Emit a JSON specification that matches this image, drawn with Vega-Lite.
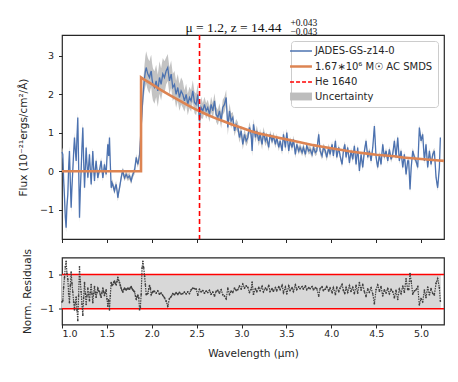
{
"$schema": "https://vega.github.io/schema/vega-lite/v6.json",
"padding": {"left": 17, "top": 16, "right": 5, "bottom": 5},
"background": "white",
"config": {
  "font": "DejaVu Sans",
  "view": {"stroke": "#262626", "strokeWidth": 1.2},
  "axis": {"grid": false, "domain": false, "tickColor": "#262626", "tickSize": 3.5, "tickWidth": 1, "labelFont": "DejaVu Sans", "labelFontSize": 9.5, "labelColor": "#262626", "titleFont": "DejaVu Sans", "titleFontSize": 10.5, "titleFontWeight": "normal", "titleColor": "#262626", "labelPadding": 5}
},
"spacing": 3.5,
"resolve": {"scale": {"color": "independent"}},
"vconcat": [
{
  "width": 382, "height": 204,
  "resolve": {"axis": {"x": "independent"}},
  "layer": [
    {"data": {"name": "spec"},
     "mark": {"type": "errorband", "borders": false, "band": {"opacity": 0.9}},
     "encoding": {
       "x": {"field": "lam", "type": "quantitative", "scale": {"domain": [1.0, 5.2555], "nice": false, "zero": false}, "axis": {"values": [1, 1.5, 2, 2.5, 3, 3.5, 4, 4.5, 5], "labels": false, "title": null}},
       "y": {"field": "flux", "type": "quantitative", "scale": {"domain": [-1.762, 3.546], "nice": false, "zero": false}, "axis": {"values": [-1, 0, 1, 2, 3], "title": "Flux (10⁻²¹ergs/cm²/Å)", "titlePadding": 11}},
       "yError": {"field": "err"},
       "color": {"datum": "Uncertainty"}
     }},
    {"data": {"name": "spec"},
     "mark": {"type": "line", "strokeWidth": 1.3},
     "encoding": {
       "x": {"field": "lam", "type": "quantitative", "axis": null},
       "y": {"field": "flux", "type": "quantitative"},
       "color": {"datum": "JADES-GS-z14-0", "type": "nominal",
         "scale": {"domain": ["JADES-GS-z14-0", "1.67∗10⁶ M☉ AC SMDS", "He 1640", "Uncertainty"], "range": ["#4C72B0", "#DD8452", "#ff0000", "#bdbdbd"]},
         "legend": {"title": null, "orient": "top-right", "offset": 6, "symbolType": "stroke", "symbolSize": 480, "labelFontSize": 10, "labelFont": "DejaVu Sans", "labelColor": "#262626", "rowPadding": 4.5, "padding": 5, "fillColor": "rgba(255,255,255,0.85)", "strokeColor": "#cccccc", "cornerRadius": 3, "labelOffset": 9,
           "encode": {"symbols": {"update": {
             "shape": {"signal": "datum.value === 'Uncertainty' ? 'M-1,-0.36H1V0.36H-1Z' : 'stroke'"},
             "fill": {"signal": "datum.value === 'Uncertainty' ? '#bdbdbd' : 'transparent'"},
             "strokeWidth": {"signal": "datum.value === 'Uncertainty' ? 0 : datum.value === 'He 1640' ? 1.6 : datum.value === 'JADES-GS-z14-0' ? 1.3 : 2.6"},
             "strokeDash": {"signal": "datum.value === 'He 1640' ? [4, 2] : [1, 0]"},
             "opacity": {"value": 1}
           }}}}
       }
     }},
    {"data": {"name": "model"},
     "mark": {"type": "line", "strokeWidth": 2.6},
     "encoding": {
       "x": {"field": "lam", "type": "quantitative", "axis": {"orient": "top", "domain": false, "ticks": false, "labels": false, "title": "μ = 1.2, z = 14.44", "titleFont": "Liberation Serif", "titleFontSize": 13.5, "titleColor": "#111111", "titleX": 123, "titleY": -4, "titleAlign": "left", "titleBaseline": "alphabetic", "titleAngle": 0}},
       "y": {"field": "flux", "type": "quantitative"},
       "color": {"datum": "1.67∗10⁶ M☉ AC SMDS"}
     }},
    {"data": {"values": [{"lam": 2.532}]},
     "mark": {"type": "rule", "strokeWidth": 1.6, "strokeDash": [5, 3]},
     "encoding": {
       "x": {"field": "lam", "type": "quantitative", "axis": {"orient": "top", "domain": false, "ticks": false, "labels": false, "title": ["+0.043", "−0.043"], "titleFont": "Liberation Serif", "titleFontSize": 9.5, "titleLineHeight": 9.5, "titleColor": "#111111", "titleX": 228, "titleY": -10, "titleAlign": "left", "titleBaseline": "alphabetic", "titleAngle": 0}},
       "color": {"datum": "He 1640"}
     }}
  ]
},
{
  "width": 382, "height": 67,
  "layer": [
    {"data": {"values": [{"a": 1.0, "b": 5.22, "lo": -1, "hi": 1}]},
     "mark": {"type": "rect", "color": "#d8d8d8"},
     "encoding": {
       "x": {"field": "a", "type": "quantitative", "scale": {"domain": [1.0, 5.2555], "nice": false, "zero": false}, "axis": {"values": [1, 1.5, 2, 2.5, 3, 3.5, 4, 4.5, 5], "format": ".1f", "title": "Wavelength (μm)", "titlePadding": 10, "labelPadding": 0.5}},
       "x2": {"field": "b"},
       "y": {"field": "lo", "type": "quantitative", "scale": {"domain": [-1.915, 1.99], "nice": false, "zero": false}, "axis": {"values": [-1, 0, 1], "title": "Norm. Residuals", "titlePadding": 7}},
       "y2": {"field": "hi"}
     }},
    {"data": {"values": [{"r": -1}, {"r": 1}]},
     "mark": {"type": "rule", "color": "#ff0000", "strokeWidth": 1.5},
     "encoding": {"y": {"field": "r", "type": "quantitative"}}},
    {"data": {"name": "resid"},
     "mark": {"type": "line", "color": "#404040", "strokeWidth": 1.2, "strokeDash": [1.5, 1]},
     "encoding": {"x": {"field": "lam", "type": "quantitative"}, "y": {"field": "res", "type": "quantitative"}}},
    {"data": {"name": "resid"},
     "mark": {"type": "point", "filled": true, "color": "#404040", "size": 3, "opacity": 1},
     "encoding": {"x": {"field": "lam", "type": "quantitative"}, "y": {"field": "res", "type": "quantitative"}}}
  ]
}
],
"datasets": {
"model": [
{"lam":1.0,"flux":0},{"lam":1.88,"flux":0},{"lam":1.881,"flux":2.44},{"lam":1.9,"flux":2.41},{"lam":2.0,"flux":2.27},{"lam":2.1,"flux":2.12},{"lam":2.2,"flux":1.98},{"lam":2.3,"flux":1.85},{"lam":2.4,"flux":1.72},{"lam":2.5,"flux":1.60},{"lam":2.6,"flux":1.49},{"lam":2.7,"flux":1.39},{"lam":2.8,"flux":1.30},{"lam":2.9,"flux":1.21},{"lam":3.0,"flux":1.13},{"lam":3.1,"flux":1.05},{"lam":3.2,"flux":0.98},{"lam":3.3,"flux":0.93},{"lam":3.4,"flux":0.88},{"lam":3.5,"flux":0.83},{"lam":3.6,"flux":0.78},{"lam":3.7,"flux":0.73},{"lam":3.8,"flux":0.68},{"lam":3.9,"flux":0.64},{"lam":4.0,"flux":0.60},{"lam":4.1,"flux":0.56},{"lam":4.2,"flux":0.52},{"lam":4.3,"flux":0.49},{"lam":4.4,"flux":0.46},{"lam":4.5,"flux":0.43},{"lam":4.6,"flux":0.41},{"lam":4.7,"flux":0.39},{"lam":4.8,"flux":0.36},{"lam":4.9,"flux":0.34},{"lam":5.0,"flux":0.32},{"lam":5.1,"flux":0.30},{"lam":5.2,"flux":0.28},{"lam":5.255,"flux":0.27}
],
"spec": [
{"lam":1.000,"flux":0.50,"err":0.12},{"lam":1.009,"flux":0.44,"err":0.12},{"lam":1.018,"flux":-0.20,"err":0.12},{"lam":1.028,"flux":-0.69,"err":0.12},{"lam":1.037,"flux":-1.20,"err":0.12},{"lam":1.046,"flux":-1.47,"err":0.12},{"lam":1.055,"flux":-0.90,"err":0.12},{"lam":1.065,"flux":-0.60,"err":0.12},{"lam":1.074,"flux":0.10,"err":0.12},{"lam":1.083,"flux":0.53,"err":0.12},{"lam":1.093,"flux":-0.30,"err":0.12},{"lam":1.102,"flux":-0.95,"err":0.12},{"lam":1.111,"flux":-0.40,"err":0.12},{"lam":1.120,"flux":0.01,"err":0.12},{"lam":1.130,"flux":0.50,"err":0.12},{"lam":1.139,"flux":0.88,"err":0.12},{"lam":1.148,"flux":0.55,"err":0.12},{"lam":1.158,"flux":0.27,"err":0.12},{"lam":1.167,"flux":0.90,"err":0.12},{"lam":1.176,"flux":1.40,"err":0.12},{"lam":1.185,"flux":0.20,"err":0.12},{"lam":1.195,"flux":-1.21,"err":0.12},{"lam":1.204,"flux":-0.50,"err":0.12},{"lam":1.213,"flux":0.01,"err":0.12},{"lam":1.222,"flux":0.60,"err":0.12},{"lam":1.232,"flux":1.14,"err":0.12},{"lam":1.241,"flux":0.30,"err":0.12},
{"lam":1.251,"flux":-0.43,"err":0.09},{"lam":1.260,"flux":0.10,"err":0.09},{"lam":1.269,"flux":0.62,"err":0.09},{"lam":1.278,"flux":0.20,"err":0.09},{"lam":1.288,"flux":-0.17,"err":0.09},{"lam":1.297,"flux":0.15,"err":0.09},{"lam":1.306,"flux":0.44,"err":0.09},{"lam":1.315,"flux":0.05,"err":0.09},{"lam":1.325,"flux":-0.34,"err":0.09},{"lam":1.334,"flux":0.10,"err":0.09},{"lam":1.343,"flux":0.53,"err":0.09},{"lam":1.352,"flux":0.10,"err":0.09},{"lam":1.362,"flux":-0.25,"err":0.09},{"lam":1.371,"flux":0.05,"err":0.09},{"lam":1.380,"flux":0.27,"err":0.09},{"lam":1.389,"flux":0.05,"err":0.09},{"lam":1.399,"flux":-0.17,"err":0.09},{"lam":1.408,"flux":-0.05,"err":0.09},{"lam":1.418,"flux":0.01,"err":0.09},{"lam":1.427,"flux":0.15,"err":0.09},{"lam":1.436,"flux":0.27,"err":0.09},{"lam":1.445,"flux":0.05,"err":0.09},{"lam":1.455,"flux":-0.17,"err":0.09},{"lam":1.464,"flux":0.00,"err":0.09},{"lam":1.473,"flux":0.18,"err":0.09},{"lam":1.482,"flux":0.05,"err":0.09},{"lam":1.492,"flux":-0.08,"err":0.09},{"lam":1.501,"flux":0.35,"err":0.09},{"lam":1.510,"flux":0.70,"err":0.09},{"lam":1.520,"flux":0.40,"err":0.09},{"lam":1.529,"flux":0.88,"err":0.09},{"lam":1.538,"flux":0.20,"err":0.09},{"lam":1.548,"flux":-0.43,"err":0.09},{"lam":1.557,"flux":-0.30,"err":0.09},{"lam":1.566,"flux":-0.34,"err":0.09},{"lam":1.576,"flux":-0.45,"err":0.09},{"lam":1.585,"flux":-0.51,"err":0.09},{"lam":1.594,"flux":-0.40,"err":0.09},{"lam":1.603,"flux":-0.34,"err":0.09},{"lam":1.613,"flux":-0.50,"err":0.09},{"lam":1.622,"flux":-0.69,"err":0.09},{"lam":1.631,"flux":-0.55,"err":0.09},{"lam":1.641,"flux":-0.43,"err":0.09},{"lam":1.650,"flux":-0.30,"err":0.09},{"lam":1.659,"flux":-0.17,"err":0.09},{"lam":1.669,"flux":-0.05,"err":0.09},{"lam":1.678,"flux":0.01,"err":0.09},{"lam":1.687,"flux":-0.10,"err":0.09},{"lam":1.697,"flux":-0.17,"err":0.09},{"lam":1.706,"flux":-0.12,"err":0.09},{"lam":1.715,"flux":-0.08,"err":0.09},{"lam":1.725,"flux":-0.13,"err":0.09},{"lam":1.734,"flux":-0.17,"err":0.09},{"lam":1.743,"flux":-0.14,"err":0.09},{"lam":1.752,"flux":-0.12,"err":0.09},{"lam":1.762,"flux":-0.20,"err":0.09},{"lam":1.771,"flux":-0.25,"err":0.09},{"lam":1.780,"flux":-0.15,"err":0.09},{"lam":1.790,"flux":-0.08,"err":0.09},{"lam":1.799,"flux":-0.03,"err":0.09},{"lam":1.808,"flux":0.01,"err":0.09},{"lam":1.818,"flux":0.20,"err":0.09},{"lam":1.827,"flux":0.36,"err":0.09},{"lam":1.836,"flux":0.25,"err":0.09},{"lam":1.845,"flux":0.18,"err":0.09},{"lam":1.855,"flux":0.30,"err":0.09},{"lam":1.864,"flux":0.44,"err":0.09},
{"lam":1.873,"flux":0.80,"err":0.25},{"lam":1.882,"flux":1.14,"err":0.25},{"lam":1.892,"flux":1.55,"err":0.25},{"lam":1.901,"flux":1.92,"err":0.25},{"lam":1.910,"flux":2.20,"err":0.3},{"lam":1.920,"flux":2.44,"err":0.35},{"lam":1.929,"flux":2.60,"err":0.4},{"lam":1.938,"flux":2.70,"err":0.42},
{"lam":1.948,"flux":2.60,"err":0.42},{"lam":1.957,"flux":2.53,"err":0.42},{"lam":1.966,"flux":2.48,"err":0.42},{"lam":1.975,"flux":2.44,"err":0.42},{"lam":1.985,"flux":2.55,"err":0.42},{"lam":1.994,"flux":2.61,"err":0.42},{"lam":2.003,"flux":2.40,"err":0.42},{"lam":2.013,"flux":2.26,"err":0.42},{"lam":2.021,"flux":2.22,"err":0.42},{"lam":2.030,"flux":2.18,"err":0.42},{"lam":2.049,"flux":2.35,"err":0.42},{"lam":2.067,"flux":2.09,"err":0.42},{"lam":2.086,"flux":2.44,"err":0.42},{"lam":2.104,"flux":2.26,"err":0.42},{"lam":2.123,"flux":2.53,"err":0.42},{"lam":2.141,"flux":2.44,"err":0.42},
{"lam":2.160,"flux":2.61,"err":0.35},{"lam":2.178,"flux":2.70,"err":0.35},{"lam":2.197,"flux":2.35,"err":0.35},{"lam":2.216,"flux":2.53,"err":0.35},{"lam":2.234,"flux":2.18,"err":0.35},{"lam":2.253,"flux":2.26,"err":0.35},{"lam":2.271,"flux":2.00,"err":0.35},{"lam":2.290,"flux":2.18,"err":0.35},{"lam":2.308,"flux":1.92,"err":0.35},{"lam":2.327,"flux":2.09,"err":0.35},{"lam":2.346,"flux":2.00,"err":0.35},
{"lam":2.364,"flux":1.83,"err":0.28},{"lam":2.383,"flux":2.00,"err":0.28},{"lam":2.401,"flux":1.74,"err":0.28},{"lam":2.420,"flux":1.92,"err":0.28},{"lam":2.438,"flux":1.83,"err":0.28},{"lam":2.457,"flux":2.09,"err":0.28},{"lam":2.476,"flux":1.79,"err":0.28},{"lam":2.494,"flux":1.74,"err":0.28},{"lam":2.513,"flux":2.00,"err":0.28},{"lam":2.531,"flux":1.31,"err":0.28},{"lam":2.550,"flux":1.66,"err":0.28},
{"lam":2.569,"flux":1.57,"err":0.2},{"lam":2.587,"flux":1.74,"err":0.2},{"lam":2.606,"flux":1.57,"err":0.2},{"lam":2.624,"flux":1.66,"err":0.2},{"lam":2.643,"flux":1.48,"err":0.2},{"lam":2.661,"flux":1.74,"err":0.2},{"lam":2.680,"flux":1.57,"err":0.2},{"lam":2.699,"flux":1.83,"err":0.2},{"lam":2.717,"flux":1.48,"err":0.2},{"lam":2.736,"flux":1.40,"err":0.2},{"lam":2.754,"flux":1.57,"err":0.2},{"lam":2.773,"flux":1.31,"err":0.2},{"lam":2.791,"flux":1.66,"err":0.2},{"lam":2.810,"flux":1.74,"err":0.2},{"lam":2.829,"flux":1.92,"err":0.2},{"lam":2.847,"flux":1.14,"err":0.2},{"lam":2.866,"flux":1.57,"err":0.2},{"lam":2.884,"flux":1.31,"err":0.2},
{"lam":2.903,"flux":1.40,"err":0.14},{"lam":2.922,"flux":1.05,"err":0.14},{"lam":2.940,"flux":1.22,"err":0.14},{"lam":2.959,"flux":1.14,"err":0.14},{"lam":2.977,"flux":0.88,"err":0.14},{"lam":2.996,"flux":1.05,"err":0.14},{"lam":3.014,"flux":0.70,"err":0.14},{"lam":3.033,"flux":0.96,"err":0.14},{"lam":3.052,"flux":0.79,"err":0.14},{"lam":3.070,"flux":0.88,"err":0.14},{"lam":3.088,"flux":1.14,"err":0.14},{"lam":3.107,"flux":0.96,"err":0.14},{"lam":3.118,"flux":0.53,"err":0.14},{"lam":3.133,"flux":1.22,"err":0.14},{"lam":3.155,"flux":0.88,"err":0.14},{"lam":3.170,"flux":1.05,"err":0.14},{"lam":3.192,"flux":0.79,"err":0.14},{"lam":3.207,"flux":0.96,"err":0.14},{"lam":3.229,"flux":0.70,"err":0.14},{"lam":3.244,"flux":1.01,"err":0.14},{"lam":3.266,"flux":0.79,"err":0.14},{"lam":3.281,"flux":0.88,"err":0.14},
{"lam":3.303,"flux":0.62,"err":0.1},{"lam":3.318,"flux":0.96,"err":0.1},{"lam":3.340,"flux":0.79,"err":0.1},{"lam":3.355,"flux":0.92,"err":0.1},{"lam":3.378,"flux":0.70,"err":0.1},{"lam":3.392,"flux":0.88,"err":0.1},{"lam":3.415,"flux":0.62,"err":0.1},{"lam":3.430,"flux":0.79,"err":0.1},{"lam":3.452,"flux":0.53,"err":0.1},{"lam":3.467,"flux":0.96,"err":0.1},{"lam":3.489,"flux":0.62,"err":0.1},{"lam":3.504,"flux":1.01,"err":0.1},{"lam":3.526,"flux":0.53,"err":0.1},{"lam":3.541,"flux":0.79,"err":0.1},{"lam":3.563,"flux":0.62,"err":0.1},{"lam":3.578,"flux":0.83,"err":0.1},{"lam":3.600,"flux":0.44,"err":0.1},{"lam":3.615,"flux":0.70,"err":0.1},{"lam":3.637,"flux":0.53,"err":0.1},{"lam":3.652,"flux":0.62,"err":0.1},{"lam":3.675,"flux":0.49,"err":0.1},{"lam":3.689,"flux":0.62,"err":0.1},{"lam":3.712,"flux":0.44,"err":0.1},{"lam":3.726,"flux":0.66,"err":0.1},{"lam":3.749,"flux":0.53,"err":0.1},{"lam":3.764,"flux":0.57,"err":0.1},{"lam":3.786,"flux":0.44,"err":0.1},{"lam":3.801,"flux":0.62,"err":0.1},{"lam":3.823,"flux":0.49,"err":0.1},{"lam":3.838,"flux":0.53,"err":0.1},{"lam":3.860,"flux":0.96,"err":0.1},{"lam":3.875,"flux":0.53,"err":0.1},{"lam":3.897,"flux":0.40,"err":0.1},{"lam":3.912,"flux":0.62,"err":0.1},{"lam":3.934,"flux":0.53,"err":0.1},{"lam":3.949,"flux":0.36,"err":0.1},{"lam":3.971,"flux":0.62,"err":0.1},{"lam":3.986,"flux":0.44,"err":0.1},
{"lam":4.009,"flux":0.70,"err":0.08},{"lam":4.023,"flux":0.40,"err":0.08},{"lam":4.046,"flux":0.79,"err":0.08},{"lam":4.061,"flux":0.36,"err":0.08},{"lam":4.083,"flux":0.62,"err":0.08},{"lam":4.098,"flux":0.40,"err":0.08},{"lam":4.120,"flux":0.18,"err":0.08},{"lam":4.135,"flux":0.53,"err":0.08},{"lam":4.150,"flux":0.70,"err":0.08},{"lam":4.165,"flux":0.36,"err":0.08},{"lam":4.183,"flux":0.62,"err":0.08},{"lam":4.202,"flux":0.22,"err":0.08},{"lam":4.220,"flux":0.53,"err":0.08},{"lam":4.239,"flux":0.31,"err":0.08},{"lam":4.257,"flux":0.66,"err":0.08},{"lam":4.276,"flux":0.18,"err":0.08},{"lam":4.294,"flux":0.62,"err":0.08},{"lam":4.313,"flux":0.01,"err":0.08},{"lam":4.332,"flux":0.44,"err":0.08},{"lam":4.350,"flux":0.10,"err":0.08},{"lam":4.369,"flux":0.53,"err":0.08},{"lam":4.387,"flux":0.79,"err":0.08},{"lam":4.406,"flux":0.36,"err":0.08},{"lam":4.424,"flux":0.53,"err":0.08},{"lam":4.443,"flux":0.27,"err":0.08},{"lam":4.462,"flux":0.62,"err":0.08},{"lam":4.480,"flux":1.18,"err":0.08},{"lam":4.499,"flux":0.36,"err":0.08},{"lam":4.517,"flux":0.10,"err":0.08},{"lam":4.536,"flux":0.44,"err":0.08},{"lam":4.554,"flux":0.18,"err":0.08},{"lam":4.573,"flux":0.70,"err":0.08},{"lam":4.591,"flux":0.36,"err":0.08},{"lam":4.610,"flux":0.53,"err":0.08},{"lam":4.629,"flux":0.27,"err":0.08},{"lam":4.647,"flux":0.57,"err":0.08},{"lam":4.666,"flux":0.31,"err":0.08},{"lam":4.684,"flux":0.44,"err":0.08},{"lam":4.703,"flux":0.79,"err":0.08},{"lam":4.721,"flux":0.36,"err":0.08},{"lam":4.740,"flux":0.88,"err":0.08},{"lam":4.758,"flux":0.27,"err":0.08},{"lam":4.777,"flux":0.53,"err":0.08},{"lam":4.796,"flux":0.10,"err":0.08},{"lam":4.814,"flux":0.44,"err":0.08},{"lam":4.833,"flux":-0.08,"err":0.08},{"lam":4.851,"flux":0.27,"err":0.08},{"lam":4.862,"flux":0.27,"err":0.08},{"lam":4.877,"flux":-0.47,"err":0.08},{"lam":4.890,"flux":0.10,"err":0.08},{"lam":4.907,"flux":0.53,"err":0.08},{"lam":4.926,"flux":0.36,"err":0.08},{"lam":4.944,"flux":0.27,"err":0.08},{"lam":4.963,"flux":0.10,"err":0.08},{"lam":4.981,"flux":1.14,"err":0.08},{"lam":5.000,"flux":0.79,"err":0.08},{"lam":5.018,"flux":0.96,"err":0.08},{"lam":5.037,"flux":0.27,"err":0.08},{"lam":5.055,"flux":0.70,"err":0.08},{"lam":5.074,"flux":0.10,"err":0.08},{"lam":5.093,"flux":0.53,"err":0.08},{"lam":5.111,"flux":0.18,"err":0.08},{"lam":5.130,"flux":0.44,"err":0.08},{"lam":5.148,"flux":0.53,"err":0.08},{"lam":5.167,"flux":-0.16,"err":0.08},{"lam":5.185,"flux":-0.43,"err":0.08},{"lam":5.204,"flux":0.10,"err":0.08},{"lam":5.215,"flux":0.88,"err":0.08}
],
"resid": [
{"lam":1.000,"res":-0.60},{"lam":1.009,"res":-0.53},{"lam":1.018,"res":0.24},{"lam":1.028,"res":0.83},{"lam":1.037,"res":1.44},{"lam":1.046,"res":1.76},{"lam":1.055,"res":1.08},{"lam":1.065,"res":0.72},{"lam":1.074,"res":-0.12},{"lam":1.083,"res":-0.64},{"lam":1.093,"res":0.36},{"lam":1.102,"res":1.14},{"lam":1.111,"res":0.48},{"lam":1.120,"res":-0.01},{"lam":1.130,"res":-0.60},{"lam":1.139,"res":-1.06},{"lam":1.148,"res":-0.66},{"lam":1.158,"res":-0.32},{"lam":1.167,"res":-1.08},{"lam":1.176,"res":-1.68},{"lam":1.185,"res":-0.24},{"lam":1.195,"res":1.45},{"lam":1.204,"res":0.60},{"lam":1.213,"res":-0.01},{"lam":1.222,"res":-0.72},{"lam":1.232,"res":-1.37},{"lam":1.241,"res":-0.36},{"lam":1.251,"res":0.52},{"lam":1.260,"res":-0.12},{"lam":1.269,"res":-0.74},{"lam":1.278,"res":-0.24},{"lam":1.288,"res":0.20},{"lam":1.297,"res":-0.18},{"lam":1.306,"res":-0.53},{"lam":1.315,"res":-0.06},{"lam":1.325,"res":0.41},{"lam":1.334,"res":-0.12},{"lam":1.343,"res":-0.64},{"lam":1.352,"res":-0.12},{"lam":1.362,"res":0.30},{"lam":1.371,"res":-0.06},{"lam":1.380,"res":-0.32},{"lam":1.389,"res":-0.06},{"lam":1.399,"res":0.20},{"lam":1.408,"res":0.06},{"lam":1.418,"res":-0.01},{"lam":1.427,"res":-0.18},{"lam":1.436,"res":-0.32},{"lam":1.445,"res":-0.06},{"lam":1.455,"res":0.20},{"lam":1.464,"res":0.00},{"lam":1.473,"res":-0.22},{"lam":1.482,"res":-0.06},{"lam":1.492,"res":0.10},{"lam":1.501,"res":-0.42},{"lam":1.510,"res":-0.84},{"lam":1.520,"res":-0.48},{"lam":1.529,"res":-1.06},{"lam":1.538,"res":-0.24},{"lam":1.548,"res":0.52},{"lam":1.557,"res":0.36},{"lam":1.566,"res":0.41},{"lam":1.576,"res":0.54},{"lam":1.585,"res":0.61},{"lam":1.594,"res":0.48},{"lam":1.603,"res":0.41},{"lam":1.613,"res":0.60},{"lam":1.622,"res":0.83},{"lam":1.631,"res":0.66},{"lam":1.641,"res":0.52},{"lam":1.650,"res":0.36},{"lam":1.659,"res":0.20},{"lam":1.669,"res":0.06},{"lam":1.678,"res":-0.01},{"lam":1.687,"res":0.12},{"lam":1.697,"res":0.20},{"lam":1.706,"res":0.14},{"lam":1.715,"res":0.10},{"lam":1.725,"res":0.16},{"lam":1.734,"res":0.20},{"lam":1.743,"res":0.17},{"lam":1.752,"res":0.14},{"lam":1.762,"res":0.24},{"lam":1.771,"res":0.30},{"lam":1.780,"res":0.18},{"lam":1.790,"res":0.10},{"lam":1.799,"res":0.04},{"lam":1.808,"res":-0.01},{"lam":1.818,"res":-0.24},{"lam":1.827,"res":-0.43},{"lam":1.836,"res":-0.30},{"lam":1.845,"res":-0.22},{"lam":1.855,"res":-0.36},{"lam":1.864,"res":-1.05},{"lam":1.873,"res":-0.90},{"lam":1.882,"res":-0.17},{"lam":1.892,"res":1.38},{"lam":1.901,"res":1.77},{"lam":1.910,"res":1.40},{"lam":1.920,"res":0.90},{"lam":1.929,"res":0.40},{"lam":1.938,"res":-0.17},{"lam":1.948,"res":-0.13},{"lam":1.957,"res":-0.10},{"lam":1.966,"res":0.15},{"lam":1.975,"res":0.35},{"lam":1.985,"res":0.20},{"lam":1.994,"res":-0.17},{"lam":2.003,"res":-0.07},{"lam":2.013,"res":0.00},{"lam":2.021,"res":0.01},{"lam":2.030,"res":0.02},{"lam":2.049,"res":-0.08},{"lam":2.067,"res":0.04},{"lam":2.086,"res":-0.15},{"lam":2.104,"res":-0.08},{"lam":2.123,"res":-0.22},{"lam":2.141,"res":-0.35},{"lam":2.160,"res":-0.55},{"lam":2.178,"res":-0.85},{"lam":2.197,"res":-0.40},{"lam":2.216,"res":-0.29},{"lam":2.234,"res":-0.12},{"lam":2.253,"res":-0.18},{"lam":2.271,"res":-0.06},{"lam":2.290,"res":-0.16},{"lam":2.308,"res":-0.04},{"lam":2.327,"res":-0.14},{"lam":2.346,"res":-0.11},{"lam":2.364,"res":-0.03},{"lam":2.383,"res":-0.13},{"lam":2.401,"res":-0.01},{"lam":2.420,"res":-0.11},{"lam":2.438,"res":0.10},{"lam":2.457,"res":0.20},{"lam":2.476,"res":0.18},{"lam":2.494,"res":0.15},{"lam":2.513,"res":-0.21},{"lam":2.531,"res":0.13},{"lam":2.550,"res":0.00},{"lam":2.569,"res":0.06},{"lam":2.587,"res":-0.09},{"lam":2.606,"res":0.03},{"lam":2.624,"res":-0.05},{"lam":2.643,"res":0.08},{"lam":2.661,"res":-0.15},{"lam":2.680,"res":-0.03},{"lam":2.699,"res":-0.25},{"lam":2.717,"res":0.01},{"lam":2.736,"res":0.07},{"lam":2.754,"res":-0.08},{"lam":2.773,"res":0.11},{"lam":2.791,"res":-0.18},{"lam":2.810,"res":-0.26},{"lam":2.829,"res":-0.42},{"lam":2.847,"res":0.20},{"lam":2.866,"res":-0.16},{"lam":2.884,"res":0.03},{"lam":2.903,"res":-0.05},{"lam":2.922,"res":0.21},{"lam":2.940,"res":0.07},{"lam":2.959,"res":0.12},{"lam":2.977,"res":0.32},{"lam":2.996,"res":0.16},{"lam":3.014,"res":0.44},{"lam":3.033,"res":0.21},{"lam":3.052,"res":0.33},{"lam":3.070,"res":0.25},{"lam":3.088,"res":-0.04},{"lam":3.107,"res":0.13},{"lam":3.118,"res":0.55},{"lam":3.133,"res":-0.15},{"lam":3.155,"res":0.18},{"lam":3.170,"res":0.00},{"lam":3.192,"res":0.25},{"lam":3.207,"res":0.06},{"lam":3.229,"res":0.31},{"lam":3.244,"res":-0.01},{"lam":3.266,"res":0.20},{"lam":3.281,"res":0.10},{"lam":3.303,"res":0.36},{"lam":3.318,"res":0.01},{"lam":3.340,"res":0.17},{"lam":3.355,"res":0.03},{"lam":3.378,"res":0.24},{"lam":3.392,"res":0.05},{"lam":3.415,"res":0.30},{"lam":3.430,"res":0.12},{"lam":3.452,"res":0.37},{"lam":3.467,"res":-0.06},{"lam":3.489,"res":0.27},{"lam":3.504,"res":-0.13},{"lam":3.526,"res":0.34},{"lam":3.541,"res":0.07},{"lam":3.563,"res":0.23},{"lam":3.578,"res":0.01},{"lam":3.600,"res":0.39},{"lam":3.615,"res":0.12},{"lam":3.637,"res":0.28},{"lam":3.652,"res":0.18},{"lam":3.675,"res":0.30},{"lam":3.689,"res":0.16},{"lam":3.712,"res":0.33},{"lam":3.726,"res":0.11},{"lam":3.749,"res":0.23},{"lam":3.764,"res":0.18},{"lam":3.786,"res":0.30},{"lam":3.801,"res":0.11},{"lam":3.823,"res":0.23},{"lam":3.838,"res":0.18},{"lam":3.860,"res":-0.26},{"lam":3.875,"res":0.17},{"lam":3.897,"res":0.29},{"lam":3.912,"res":0.07},{"lam":3.934,"res":0.15},{"lam":3.949,"res":0.31},{"lam":3.971,"res":0.04},{"lam":3.986,"res":0.21},{"lam":4.009,"res":-0.05},{"lam":4.023,"res":0.24},{"lam":4.046,"res":-0.16},{"lam":4.061,"res":0.27},{"lam":4.083,"res":0.00},{"lam":4.098,"res":0.21},{"lam":4.120,"res":0.42},{"lam":4.135,"res":0.07},{"lam":4.150,"res":-0.11},{"lam":4.165,"res":0.24},{"lam":4.183,"res":-0.04},{"lam":4.202,"res":0.35},{"lam":4.220,"res":0.03},{"lam":4.239,"res":0.25},{"lam":4.257,"res":-0.11},{"lam":4.276,"res":0.36},{"lam":4.294,"res":-0.08},{"lam":4.313,"res":0.52},{"lam":4.332,"res":0.09},{"lam":4.350,"res":0.43},{"lam":4.369,"res":-0.01},{"lam":4.387,"res":-0.28},{"lam":4.406,"res":0.16},{"lam":4.424,"res":-0.03},{"lam":4.443,"res":0.22},{"lam":4.462,"res":-0.13},{"lam":4.480,"res":-0.70},{"lam":4.499,"res":0.12},{"lam":4.517,"res":0.39},{"lam":4.536,"res":0.03},{"lam":4.554,"res":0.29},{"lam":4.573,"res":-0.24},{"lam":4.591,"res":0.10},{"lam":4.610,"res":-0.07},{"lam":4.629,"res":0.18},{"lam":4.647,"res":-0.12},{"lam":4.666,"res":0.13},{"lam":4.684,"res":0.00},{"lam":4.703,"res":-0.35},{"lam":4.721,"res":0.08},{"lam":4.740,"res":-0.45},{"lam":4.758,"res":0.15},{"lam":4.777,"res":-0.11},{"lam":4.796,"res":0.32},{"lam":4.814,"res":-0.03},{"lam":4.833,"res":0.75},{"lam":4.851,"res":0.13},{"lam":4.862,"res":0.13},{"lam":4.877,"res":1.05},{"lam":4.890,"res":0.60},{"lam":4.907,"res":-0.14},{"lam":4.926,"res":0.04},{"lam":4.944,"res":0.11},{"lam":4.963,"res":0.29},{"lam":4.981,"res":-0.77},{"lam":5.000,"res":-0.42},{"lam":5.018,"res":-0.59},{"lam":5.037,"res":0.09},{"lam":5.055,"res":-0.34},{"lam":5.074,"res":0.26},{"lam":5.093,"res":-0.18},{"lam":5.111,"res":0.17},{"lam":5.130,"res":-0.10},{"lam":5.148,"res":-0.19},{"lam":5.167,"res":0.49},{"lam":5.185,"res":0.76},{"lam":5.204,"res":0.23},{"lam":5.215,"res":-0.55}
]
}
}
